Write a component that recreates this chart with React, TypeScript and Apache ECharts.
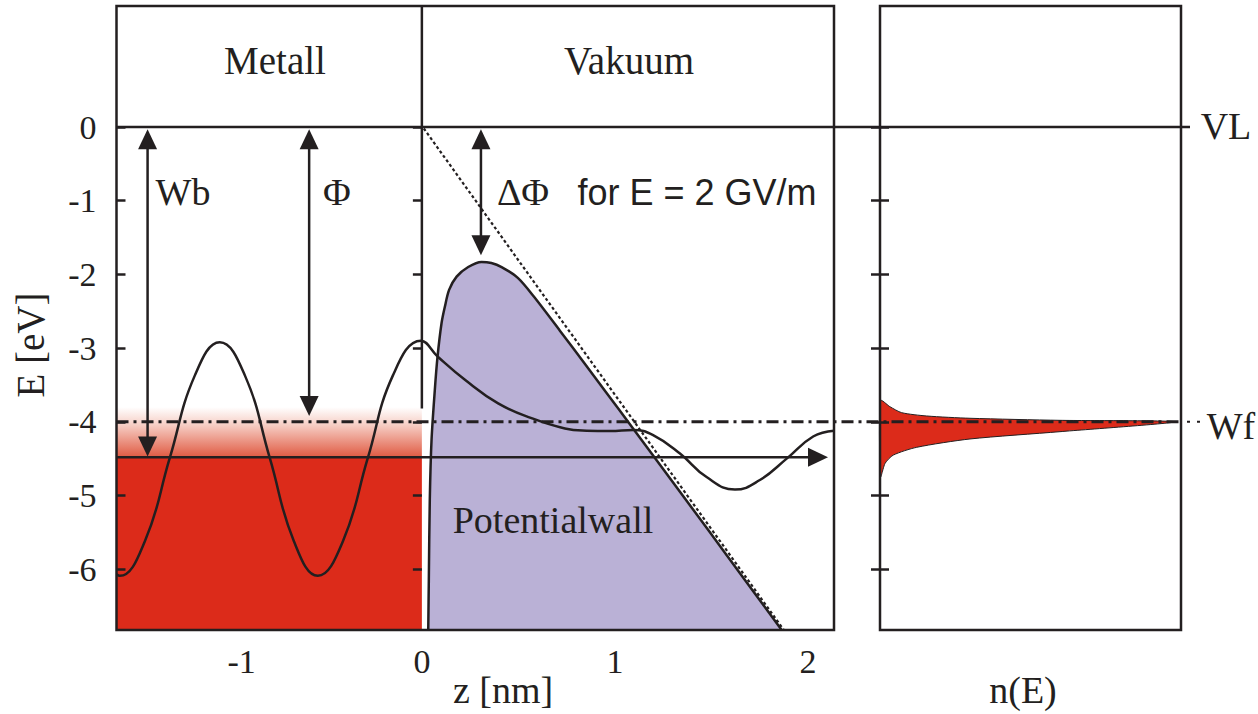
import React, { useEffect, useRef } from "react";
import * as echarts from "echarts";

const INK = "#231f20";
const SERIF = '"Liberation Serif", "Times New Roman", serif';
const SANS = '"Liberation Sans", Arial, sans-serif';
const RED = "#dc2b1a";
const PURPLE = "#bab1d6";

// ---- axes ----
const zRange = [-1.582, 2.135];
const eRange = [-6.825, 1.642];
const eTicks = [-6, -5, -4, -3, -2, -1, 0];
const zLabelPos = [-0.934, 0, 1, 2];
const zLabels = ["-1", "0", "1", "2"];
const nRange = [0, 1];

// ---- levels ----
const vacuumLevel = 0;
const fermiLevel = -4;
const bandLevel = -4.48;
const smearTop = -3.8;
const metalZ = [-1.582, 0];
const boundaryE = [1.642, -3.82];

// ---- potential wall (z [nm], E [eV]) ----
const wallZ = [0.033, 0.036, 0.041, 0.05, 0.067, 0.081, 0.102, 0.119, 0.141, 0.18, 0.24, 0.309, 0.36, 0.413, 0.497, 0.58, 0.715, 0.845, 0.953, 1.093, 1.218, 1.404, 1.565, 1.864];
const wallE = [-6.825, -6.15, -5.06, -4.25, -3.57, -3.12, -2.66, -2.44, -2.21, -2.03, -1.9, -1.83, -1.845, -1.9, -2.047, -2.3, -2.763, -3.217, -3.596, -4.087, -4.528, -5.187, -5.759, -6.825];

// ---- field line (E = 2 GV/m) ----
const fieldZ = [0.01, 1.875];
const fieldE = [-0.02, -6.825];

// ---- wave function ----
const waveZ = [-1.582, -1.565, -1.435, -1.306, -1.176, -1.047, -0.917, -0.788, -0.663, -0.539, -0.409, -0.28, -0.15, -0.005, 0.084, 0.223, 0.395, 0.568, 0.741, 0.853, 0.975, 1.095, 1.198, 1.337, 1.475, 1.622, 1.751, 1.89, 2.027, 2.135];
const waveE = [-6.07, -6.09, -5.62, -4.49, -3.37, -2.92, -3.37, -4.49, -5.62, -6.09, -5.62, -4.49, -3.37, -2.9, -3.12, -3.43, -3.75, -3.95, -4.09, -4.12, -4.125, -4.11, -4.18, -4.43, -4.75, -4.92, -4.79, -4.5, -4.2, -4.12];

// ---- density of states n(E) ----
const dosN = [0.002, 0.033, 0.072, 0.155, 0.299, 0.598, 0.98, 0.598, 0.299, 0.122, 0.044, 0.017, 0.002];
const dosE = [-3.714, -3.795, -3.876, -3.921, -3.952, -3.98, -4.0, -4.134, -4.233, -4.346, -4.452, -4.563, -4.745];

// ---- arrows ----
const arrowZ1 = [-1.421, -0.584, 0.306, -1.582];
const arrowE1 = [-0.03, -0.03, -0.03, -4.48];
const arrowZ2 = [-1.421, -0.584, 0.306, 2.104];
const arrowE2 = [-4.47, -3.92, -1.74, -4.48];
const arrowBoth = [1, 1, 1, 0];

function text(str: string, x: number, y: number, size: number, family = SERIF, rotation = 0) {
  return {
    type: "text",
    x,
    y,
    rotation,
    z: 60,
    style: {
      text: str,
      fill: INK,
      fontSize: size,
      fontFamily: family,
      align: "center",
      verticalAlign: "middle",
      textAlign: "center",
      textVerticalAlign: "middle",
    },
  };
}

export default function App() {
  const ref = useRef<HTMLDivElement>(null);
  useEffect(() => {
    if (!ref.current) return;
    const chart = echarts.init(ref.current, null, { renderer: "svg" });

    const yAxisBase = (gridIndex: number, inside: boolean, labels: boolean) => ({
      type: "value",
      gridIndex,
      position: "left",
      min: eRange[0],
      max: eRange[1],
      z: 12,
      axisLine: { show: false },
      splitLine: { show: false },
      axisTick: {
        show: true,
        inside,
        length: 9,
        customValues: eTicks,
        lineStyle: { color: INK, width: 2.5 },
      },
      axisLabel: {
        show: labels,
        customValues: eTicks,
        margin: 20,
        fontSize: 34,
        fontFamily: SERIF,
        color: INK,
      },
    });

    const arrowData = arrowZ1.map((z, i) => [z, arrowE1[i], arrowZ2[i], arrowE2[i], arrowBoth[i]]);

    const option: any = {
      animation: false,
      backgroundColor: "#ffffff",
      grid: [
        { left: 116.5, right: 424, top: 6, bottom: 84, show: true, borderColor: INK, borderWidth: 2.5, backgroundColor: "transparent", z: 10 },
        { left: 880, right: 77, top: 6, bottom: 84, show: true, borderColor: INK, borderWidth: 2.5, backgroundColor: "transparent", z: 10 },
      ],
      xAxis: [
        {
          type: "value",
          gridIndex: 0,
          min: zRange[0],
          max: zRange[1],
          axisLine: { show: false },
          axisTick: { show: false },
          splitLine: { show: false },
          axisLabel: {
            customValues: zLabelPos,
            formatter: (v: number) => zLabels[zLabelPos.findIndex((p) => Math.abs(p - v) < 1e-6)] ?? "",
            margin: 14,
            fontSize: 34,
            fontFamily: SERIF,
            color: INK,
          },
        },
        {
          type: "value",
          gridIndex: 1,
          min: nRange[0],
          max: nRange[1],
          axisLine: { show: false },
          axisTick: { show: false },
          splitLine: { show: false },
          axisLabel: { show: false },
        },
      ],
      yAxis: [yAxisBase(0, false, true), yAxisBase(0, true, false), yAxisBase(1, false, false), yAxisBase(1, true, false)],
      series: [
        {
          type: "custom",
          name: "metal",
          xAxisIndex: 0,
          yAxisIndex: 0,
          z: 1,
          data: [[metalZ[0], eRange[0], metalZ[1], bandLevel, 0], [metalZ[0], bandLevel, metalZ[1], smearTop, 1]],
          renderItem: (params: any, api: any) => {
            const a = api.coord([api.value(0), api.value(1)]);
            const b = api.coord([api.value(2), api.value(3)]);
            const fill =
              api.value(4) === 1
                ? new echarts.graphic.LinearGradient(0, 0, 0, 1, [
                    { offset: 0, color: "#ffffff" },
                    { offset: 0.35, color: "#f6cfc6" },
                    { offset: 1, color: "#e05a42" },
                  ])
                : RED;
            return {
              type: "rect",
              shape: { x: a[0], y: b[1], width: b[0] - a[0], height: a[1] - b[1] },
              style: { fill },
            };
          },
        },
        {
          type: "line",
          name: "wall",
          xAxisIndex: 0,
          yAxisIndex: 0,
          z: 2,
          smooth: 0.3,
          showSymbol: false,
          data: wallZ.map((z, i) => [z, wallE[i]]),
          lineStyle: { color: INK, width: 2.5 },
          areaStyle: { color: PURPLE, opacity: 1, origin: "start" },
        },
        {
          type: "line",
          name: "boundary",
          xAxisIndex: 0,
          yAxisIndex: 0,
          z: 3,
          showSymbol: false,
          data: boundaryE.map((e) => [0, e]),
          lineStyle: { color: INK, width: 2.5 },
        },
        {
          type: "line",
          name: "field",
          xAxisIndex: 0,
          yAxisIndex: 0,
          z: 4,
          showSymbol: false,
          data: fieldZ.map((z, i) => [z, fieldE[i]]),
          lineStyle: { color: INK, width: 2.2, type: [3, 2.5] },
        },
        {
          type: "line",
          name: "wave",
          xAxisIndex: 0,
          yAxisIndex: 0,
          z: 5,
          smooth: 0.45,
          showSymbol: false,
          data: waveZ.map((z, i) => [z, waveE[i]]),
          lineStyle: { color: INK, width: 2.5 },
        },
        {
          type: "custom",
          name: "arrows",
          xAxisIndex: 0,
          yAxisIndex: 0,
          z: 6,
          encode: { x: [0, 2], y: [1, 3] },
          data: arrowData,
          renderItem: (params: any, api: any) => {
            const p1 = api.coord([api.value(0), api.value(1)]);
            const p2 = api.coord([api.value(2), api.value(3)]);
            const both = api.value(4) === 1;
            const dx = p2[0] - p1[0];
            const dy = p2[1] - p1[1];
            const len = Math.hypot(dx, dy) || 1;
            const ux = dx / len;
            const uy = dy / len;
            const L = 20;
            const W = 9.5;
            const head = (tip: number[], d: number[]) => {
              const bx = tip[0] - d[0] * L;
              const by = tip[1] - d[1] * L;
              return {
                type: "polygon",
                shape: { points: [[tip[0], tip[1]], [bx - d[1] * W, by + d[0] * W], [bx + d[1] * W, by - d[0] * W]] },
                style: { fill: INK },
              };
            };
            const s = both ? [p1[0] + ux * L * 0.8, p1[1] + uy * L * 0.8] : p1;
            const e = [p2[0] - ux * L * 0.8, p2[1] - uy * L * 0.8];
            const children: any[] = [
              { type: "line", shape: { x1: s[0], y1: s[1], x2: e[0], y2: e[1] }, style: { stroke: INK, lineWidth: 2.5 } },
              head(p2, [ux, uy]),
            ];
            if (both) children.push(head(p1, [-ux, -uy]));
            return { type: "group", children };
          },
        },
        {
          type: "custom",
          name: "dos",
          xAxisIndex: 1,
          yAxisIndex: 2,
          z: 3,
          data: dosN.map((n, i) => [n, dosE[i]]),
          renderItem: (params: any, api: any) => {
            if (params.dataIndex !== 0) return null;
            const pts = dosN.map((n, i) => api.coord([n, dosE[i]]));
            return {
              type: "polygon",
              shape: { points: pts, smooth: 0.25 },
              style: { fill: RED, stroke: INK, lineWidth: 1 },
            };
          },
        },
      ],
    };

    chart.setOption(option);

    const px = (xi: number, yi: number, p: number[]) =>
      chart.convertToPixel({ xAxisIndex: xi, yAxisIndex: yi }, p) as number[];
    const vlA = px(0, 0, [zRange[0], vacuumLevel]);
    const vlB = px(1, 2, [nRange[1], vacuumLevel]);
    const wfA = px(0, 0, [zRange[0], fermiLevel]);
    const wfB = px(1, 2, [nRange[1], fermiLevel]);

    const graphic: any[] = [
      { type: "line", z: 50, shape: { x1: vlA[0], y1: vlA[1], x2: vlB[0] + 9, y2: vlB[1] }, style: { stroke: INK, lineWidth: 2.5 } },
      { type: "line", z: 50, shape: { x1: wfA[0], y1: wfA[1], x2: wfB[0], y2: wfB[1] }, style: { stroke: INK, lineWidth: 3, lineDash: [12, 5, 3, 5] } },
      { type: "line", z: 50, shape: { x1: wfB[0] + 6, y1: wfB[1], x2: wfB[0] + 22, y2: wfB[1] }, style: { stroke: INK, lineWidth: 2, lineDash: [3, 7] } },
      text("Metall", 275, 60, 39),
      text("Vakuum", 629, 60, 39),
      text("VL", 1226, 126, 38),
      text("Wf", 1231, 426, 38),
      text("Wb", 183, 192, 38),
      text("Φ", 337, 192, 38),
      text("ΔΦ", 523, 192, 38),
      text("for E = 2 GV/m", 697, 192, 36, SANS),
      text("Potentialwall", 553, 520, 38),
      text("z [nm]", 503, 690, 38),
      text("n(E)", 1023, 690, 38),
      text("E [eV]", 30, 345, 39, SERIF, Math.PI / 2),
    ];
    chart.setOption({ graphic });

    return () => chart.dispose();
  }, []);

  return <div ref={ref} style={{ position: "absolute", left: 0, top: 0, width: 1258, height: 714, background: "#fff" }} />;
}
